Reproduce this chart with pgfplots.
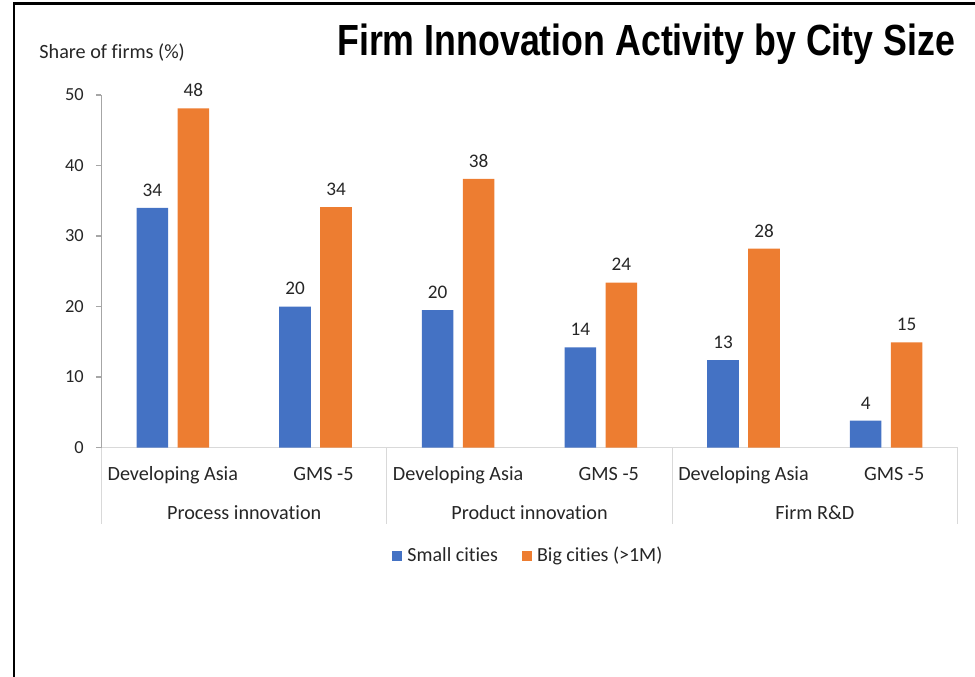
\documentclass[border=0pt]{standalone}
\usepackage{fontspec}
\usepackage{graphicx}
\setmainfont{Carlito}[Ligatures=NoCommon]
\IfFontExistsTF{Liberation Sans Narrow}{%
  \newfontfamily\titlefont{Liberation Sans Narrow}
  \newcommand\titlebox[1]{#1}}{%
  \newfontfamily\titlefont{Liberation Sans}
  \newcommand\titlebox[1]{\scalebox{0.82}[1]{#1}}}
\usepackage{pgfplots}
\pgfplotsset{compat=1.18}
\definecolor{xlblue}{HTML}{4472C4}
\definecolor{xlorange}{HTML}{ED7D31}
\definecolor{axgray}{HTML}{A6A6A6}
\definecolor{sepgray}{HTML}{D9D9D9}
\definecolor{txt}{HTML}{262626}

\begin{document}
\begin{tikzpicture}
\begin{axis}[
  name=ax, at={(0,0)}, anchor=south west,
  scale only axis, width=428pt, height=176.25pt,
  xmin=-0.5, xmax=5.5, ymin=0, ymax=50,
  clip=false,
  ybar=4.7pt, bar width=15.8pt,
  axis x line*=bottom, axis y line*=left,
  x axis line style={sepgray, line width=0.6pt},
  y axis line style={axgray, line width=0.6pt},
  xtick={0,...,5},
  xticklabels={Developing Asia, \hspace{8pt}GMS -5, Developing Asia, \hspace{8pt}GMS -5, Developing Asia, \hspace{8pt}GMS -5},
  xtick style={draw=none},
  xticklabel style={anchor=base, yshift=-13.6pt, text=txt, font=\fontsize{10.1}{12}\selectfont},
  ytick={0,10,...,50},
  ytick style={axgray, line width=0.6pt},
  tick align=outside, major tick length=2.85pt,
  yticklabel style={text=txt, xshift=-2.5pt, font=\fontsize{9.2}{11}\selectfont},
  /pgf/number format/assume math mode=true,
  nodes near coords, point meta=explicit symbolic,
  nodes near coords style={anchor=base, yshift=5.8pt, text=txt, font=\fontsize{9.6}{11}\selectfont},
  legend columns=2,
  legend style={at={(0.339,-0.3078)}, anchor=west, draw=none, fill=none, inner sep=0pt,
    font=\fontsize{10}{12}\selectfont, text=txt,
    nodes={inner sep=0pt, text height=7.7pt, text depth=2pt},
    /tikz/every odd column/.append style={column sep=2.7pt},
    /tikz/every even column/.append style={column sep=11.8pt}},
]
\addplot[fill=xlblue, draw=none,
  legend image code/.code={\fill[xlblue] (0pt,-2.5pt) rectangle (5pt,2.5pt);}]
  coordinates {(0,34.0) [34] (1,20.0) [20] (2,19.5) [20] (3,14.2) [14] (4,12.4) [13] (5,3.8) [4]};
\addplot[fill=xlorange, draw=none,
  legend image code/.code={\fill[xlorange] (0pt,-2.5pt) rectangle (5pt,2.5pt);}]
  coordinates {(0,48.1) [48] (1,34.1) [34] (2,38.1) [38] (3,23.4) [24] (4,28.2) [28] (5,14.9) [15]};
\legend{Small cities, Big cities (>1M)}
\end{axis}
% overlay in reference pixel units, origin at the axis' lower left corner
\begin{scope}[x=0.5pt, y=-0.5pt, shift={(-101.5,-447.5)}]
  \path[use as bounding box] (0,0) rectangle (975,676);
  \draw[line width=1.15pt] (13.8,690) -- (13.8,3.6) -- (990,3.6);
  \foreach \sx in {101.5,386.8,672.2,957.5}
    \draw[sepgray, line width=0.6pt] (\sx,447.5) -- (\sx,524);
  \begin{scope}[every node/.style={anchor=base, text=txt, font=\fontsize{10.1}{12}\selectfont}]
    \node at (244.2,519) {Process innovation};
    \node at (529.5,519) {Product innovation};
    \node at (814.8,519) {Firm R\&D};
  \end{scope}
  \node[anchor=base west, inner sep=0pt, text=txt, font=\fontsize{10.1}{12}\selectfont]
    at (39,58.7) {Share of firms (\%)};
  \node[anchor=base east, inner sep=0pt, font=\titlefont\bfseries\fontsize{21.8}{26}\selectfont]
    at (955.5,55) {\titlebox{Firm Innovation Activity by City Size}};
\end{scope}
\end{tikzpicture}
\end{document}
